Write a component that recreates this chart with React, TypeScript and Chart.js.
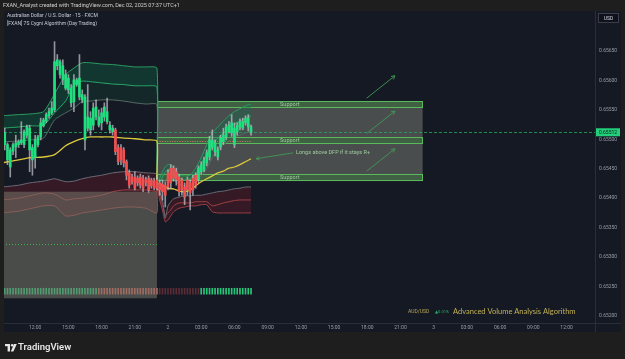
import React, { useEffect, useRef } from "react";
import { Chart, registerables } from "chart.js";

Chart.register(...registerables);

const FONT = "Roboto, 'Noto Sans', 'DejaVu Sans', sans-serif";

// ---------- candles (15 min, AUD/USD) ----------
const firstBarHour = 9.25; // Dec 1 09:15 (hours since Dec 1 00:00)
const barStepHours = 0.25;
const opens = [
  0.65491, 0.65491, 0.65453, 0.6548, 0.65487, 0.65491, 0.65494, 0.65491, 0.65507, 0.65519,
  0.65486, 0.65469, 0.65491, 0.65504, 0.65523, 0.65531, 0.6554, 0.65545, 0.6555, 0.65625,
  0.65632, 0.65601, 0.6561, 0.65584, 0.65587, 0.65564, 0.65601, 0.65572, 0.65576, 0.65572,
  0.65519, 0.65536, 0.65524, 0.65555, 0.65538, 0.65528, 0.65538, 0.65547, 0.65524, 0.65519,
  0.65516, 0.65486, 0.65465, 0.65482, 0.65462, 0.65443, 0.65436, 0.65436, 0.65426, 0.65436,
  0.65417, 0.65431, 0.65434, 0.65421, 0.65429, 0.65417, 0.65426, 0.65424, 0.65422, 0.65419,
  0.65426, 0.65451, 0.65431, 0.65436, 0.65414, 0.65419, 0.65414, 0.65426, 0.65414, 0.65422,
  0.65431, 0.65445, 0.65448, 0.6546, 0.6547, 0.65486, 0.65494, 0.65482, 0.65487, 0.65496,
  0.65504, 0.65513, 0.65511, 0.65491, 0.65513, 0.65521, 0.65519, 0.65528, 0.65536, 0.65521,
];
const highs = [
  0.65519, 0.65494, 0.65486, 0.65494, 0.65507, 0.65499, 0.6553, 0.65516, 0.65524, 0.65524,
  0.65491, 0.65507, 0.65507, 0.65536, 0.65536, 0.65545, 0.65553, 0.65564, 0.65666, 0.65644,
  0.65635, 0.65635, 0.65618, 0.6561, 0.65593, 0.6561, 0.65604, 0.65644, 0.65584, 0.65576,
  0.65593, 0.65547, 0.65562, 0.65567, 0.6555, 0.65553, 0.65562, 0.6557, 0.6553, 0.65524,
  0.65519, 0.65491, 0.65491, 0.65486, 0.65465, 0.65448, 0.65441, 0.65445, 0.65438, 0.65441,
  0.65439, 0.65436, 0.65438, 0.65434, 0.65434, 0.65439, 0.65431, 0.65431, 0.65428, 0.65448,
  0.65457, 0.65455, 0.65451, 0.65441, 0.65434, 0.65426, 0.65436, 0.65431, 0.65439, 0.65443,
  0.65455, 0.65462, 0.6547, 0.65482, 0.65505, 0.65516, 0.65499, 0.65487, 0.65507, 0.65519,
  0.65526, 0.6553, 0.65542, 0.65528, 0.65528, 0.65535, 0.65536, 0.6554, 0.65542, 0.65524,
];
const lows = [
  0.65482, 0.65457, 0.65436, 0.65474, 0.65469, 0.65486, 0.65491, 0.65486, 0.65502, 0.65445,
  0.65439, 0.65451, 0.65487, 0.65499, 0.65521, 0.65528, 0.65536, 0.65542, 0.65547, 0.65618,
  0.65604, 0.65593, 0.65584, 0.65578, 0.65555, 0.65547, 0.6559, 0.65567, 0.65562, 0.65482,
  0.65514, 0.65507, 0.65516, 0.65533, 0.65521, 0.65516, 0.65531, 0.65526, 0.65511, 0.65507,
  0.65474, 0.65457, 0.65457, 0.65453, 0.65431, 0.65417, 0.65424, 0.65414, 0.65421, 0.65417,
  0.65411, 0.65421, 0.65409, 0.65417, 0.65414, 0.65414, 0.65405, 0.65397, 0.65385, 0.65414,
  0.65417, 0.65429, 0.65422, 0.65404, 0.65405, 0.65389, 0.65405, 0.6538, 0.65405, 0.65417,
  0.65426, 0.65441, 0.65445, 0.65455, 0.65465, 0.65482, 0.65472, 0.65465, 0.65482, 0.65491,
  0.65499, 0.65511, 0.65505, 0.65486, 0.65507, 0.65516, 0.65516, 0.65524, 0.65514, 0.65507,
];
const closes = [
  0.65511, 0.65465, 0.65482, 0.65491, 0.65494, 0.65496, 0.65499, 0.65513, 0.65521, 0.65482,
  0.65465, 0.65499, 0.65504, 0.65528, 0.65533, 0.65542, 0.65547, 0.65553, 0.65632, 0.65635,
  0.6561, 0.65625, 0.65587, 0.65604, 0.65562, 0.65601, 0.65593, 0.65604, 0.65567, 0.65499,
  0.65538, 0.65516, 0.65553, 0.65538, 0.65524, 0.65545, 0.65555, 0.6553, 0.65516, 0.65513,
  0.65479, 0.65462, 0.65486, 0.6546, 0.65439, 0.65422, 0.65428, 0.65417, 0.65434, 0.65422,
  0.65434, 0.65426, 0.65414, 0.65431, 0.65417, 0.65431, 0.65414, 0.65411, 0.65405, 0.65443,
  0.65451, 0.65434, 0.65445, 0.65411, 0.65431, 0.65402, 0.65431, 0.65409, 0.65434, 0.65439,
  0.65451, 0.65457, 0.65465, 0.65477, 0.65499, 0.65499, 0.65479, 0.6547, 0.65502, 0.65507,
  0.65521, 0.65524, 0.65528, 0.65519, 0.65524, 0.6553, 0.6553, 0.65535, 0.65521, 0.65512,
];
// candle colouring by algorithm trend state
const trendSegments = [
  { from: 0, to: 39, dir: 1 },
  { from: 40, to: 69, dir: -1 },
  { from: 70, to: 89, dir: 1 },
];
// volume flow strip
const flowSegments = [
  { from: 0, to: 33, tone: "buy" },
  { from: 34, to: 55, tone: "sell" },
  { from: 56, to: 70, tone: "weakSell" },
  { from: 71, to: 89, tone: "buy" },
];
const flowStrip = [0.65237, 0.65247];

// ---------- session bands (Dec 1 session, then Dec 2 session) ----------
const bandHours = [
  9, 10.5, 11.5, 12.75, 13.75, 14.75, 15.5, 16.25, 17, 18, 19, 20, 21, 22, 23,
  23, 23.25, 23.5, 23.75, 24, 24.25, 24.5, 25, 25.5, 26, 26.5, 27, 27.5, 28, 28.5, 29, 29.5, 30, 30.5, 31, 31.5,
];
const upperBand2 = [
  0.6554, 0.65542, 0.65543, 0.65547, 0.65577, 0.6561, 0.65621, 0.6563, 0.6563, 0.65628, 0.65627, 0.65625, 0.65623, 0.65623, 0.65621,
  0.65426, 0.65434, 0.65445, 0.65453, 0.65457, 0.65457, 0.65451, 0.65439, 0.65438, 0.65439, 0.65451, 0.65469, 0.65491, 0.65511, 0.65521, 0.65531, 0.6554, 0.65547, 0.65552, 0.65557, 0.6556,
];
const upperBand1 = [
  0.65519, 0.65521, 0.65523, 0.65524, 0.65545, 0.65565, 0.65593, 0.65599, 0.65598, 0.65596, 0.65594, 0.65593, 0.65591, 0.65591, 0.65589,
  0.65422, 0.65428, 0.65436, 0.65445, 0.65448, 0.65448, 0.65445, 0.65434, 0.65431, 0.65433, 0.65443, 0.65457, 0.65474, 0.65491, 0.65502, 0.65511, 0.65519, 0.65526, 0.65531, 0.65536, 0.6554,
];
const upperInner = [
  0.65496, 0.65497, 0.65499, 0.65502, 0.65533, 0.65545, 0.65553, 0.65564, 0.65565, 0.65567, 0.65567, 0.65565, 0.65562, 0.6556, 0.65559,
  0.65419, 0.65421, 0.65426, 0.65431, 0.65434, 0.65434, 0.65431, 0.65424, 0.65421, 0.65421, 0.65428, 0.65438, 0.65451, 0.65469, 0.65482, 0.65491, 0.65497, 0.65504, 0.65507, 0.65511, 0.65513,
];
const vwapLine = [
  0.6546, 0.65465, 0.65469, 0.6547, 0.65474, 0.65489, 0.65496, 0.65501, 0.65504, 0.65504, 0.65504, 0.65502, 0.65501, 0.65499, 0.65497,
  0.65426, 0.65424, 0.65421, 0.65419, 0.65417, 0.65416, 0.65416, 0.65412, 0.65411, 0.65414, 0.65421, 0.65428, 0.65433, 0.65438, 0.65443, 0.65446, 0.65451, 0.65453, 0.65457, 0.65462, 0.65467,
];
const lowerInner = [
  0.65419, 0.65422, 0.65426, 0.65429, 0.65433, 0.65428, 0.65429, 0.65433, 0.65436, 0.65439, 0.65443, 0.65445, 0.65445, 0.65443, 0.65441,
  0.65426, 0.65411, 0.65397, 0.65366, 0.65387, 0.65394, 0.65399, 0.65402, 0.65404, 0.65404, 0.65405, 0.65405, 0.65407, 0.65409, 0.65411, 0.65412, 0.65414, 0.65416, 0.65417, 0.65419, 0.65419,
];
const lowerBand1 = [
  0.65397, 0.654, 0.65404, 0.65409, 0.65407, 0.65397, 0.65399, 0.654, 0.65402, 0.65405, 0.65411, 0.65414, 0.65414, 0.65414, 0.65412,
  0.65422, 0.65405, 0.65389, 0.65371, 0.65375, 0.6538, 0.65387, 0.65392, 0.65392, 0.65392, 0.65394, 0.65394, 0.65394, 0.65387, 0.65389, 0.65392, 0.65394, 0.65396, 0.65397, 0.65397, 0.65397,
];
const lowerBand2 = [
  0.65375, 0.65378, 0.65382, 0.65387, 0.65387, 0.6537, 0.65371, 0.65375, 0.65377, 0.6538, 0.65383, 0.65385, 0.65385, 0.65383, 0.65375,
  0.65419, 0.65397, 0.6538, 0.6536, 0.65363, 0.6537, 0.65377, 0.65383, 0.65385, 0.65387, 0.65387, 0.65389, 0.65389, 0.65377, 0.65375, 0.65375, 0.65375, 0.65375, 0.65375, 0.65375, 0.65375,
];

// ---------- axes ----------
const priceTicks = [0.652, 0.6525, 0.653, 0.6535, 0.654, 0.6545, 0.655, 0.6555, 0.656, 0.6565];
const timeTickHours = [12, 15, 18, 21, 24, 27, 30, 33, 36, 39, 42, 45, 48, 51, 54, 57, 60];
const timeTickLabels = ["12:00", "15:00", "18:00", "21:00", "2", "03:00", "06:00", "09:00", "12:00", "15:00", "18:00", "21:00", "3", "03:00", "06:00", "09:00", "12:00"];
const viewHours = [9.185, 62.57];
const viewPrices = [0.65188, 0.65718];

// ---------- drawings ----------
const supportLevels = [
  { hi: 0.65565, lo: 0.65553 },
  { hi: 0.65504, lo: 0.65492 },
  { hi: 0.65441, lo: 0.65429 },
];
const supportSpan = [23, 47];
const supportLabelHour = 35;
const sessionBox = { from: 9, to: 23, hi: 0.65411, lo: 0.6523 };
const sessionDotLevel = 0.65322;
const dfpDots = { from: 23.25, to: 31.5, level: 0.65497 };
const projectionArrows = [
  [41.95, 0.6557, 44.5, 0.65608],
  [41.95, 0.6551, 44.5, 0.65548],
  [41.95, 0.65446, 44.5, 0.65484],
];
const noteArrow = [35.3, 0.65477, 31.95, 0.65467];
const noteText = "Longs above DFP if it stays R+";
const notePos = [35.56, 0.65477];

const UP = "#1fe07f";
const DOWN = "#f44f4f";
const FLOW_COLORS: Record<string, string> = { buy: "#27c77a", sell: "#d0605a", weakSell: "#5b2c36" };

function drawArrow(ctx: CanvasRenderingContext2D, x1: number, y1: number, x2: number, y2: number, head: number) {
  ctx.beginPath();
  ctx.moveTo(x1, y1);
  ctx.lineTo(x2, y2);
  ctx.stroke();
  const a = Math.atan2(y2 - y1, x2 - x1);
  ctx.beginPath();
  ctx.moveTo(x2 - head * Math.cos(a - 0.5), y2 - head * Math.sin(a - 0.5));
  ctx.lineTo(x2, y2);
  ctx.lineTo(x2 - head * Math.cos(a + 0.5), y2 - head * Math.sin(a + 0.5));
  ctx.stroke();
}

const overlayPlugin = {
  id: "overlay",
  beforeDraw(chart: any) {
    const { ctx, chartArea: ca, scales } = chart;
    ctx.save();
    ctx.fillStyle = "#1e1e1e";
    ctx.fillRect(0, 0, chart.width, chart.height);
    ctx.fillStyle = "#151924";
    ctx.fillRect(ca.left, ca.top, scales.y.right - ca.left, scales.x.bottom - ca.top);
    ctx.restore();
  },
  beforeDatasetsDraw(chart: any) {
    const { ctx, chartArea: ca, scales } = chart;
    const xs = scales.x, ys = scales.y;
    ctx.save();
    ctx.beginPath();
    ctx.rect(ca.left, ca.top, ca.width, ca.height);
    ctx.clip();
    const zx0 = xs.getPixelForValue(supportSpan[0]);
    const zx1 = xs.getPixelForValue(supportSpan[1]);
    const zTop = ys.getPixelForValue(supportLevels[0].hi);
    const zBot = ys.getPixelForValue(supportLevels[supportLevels.length - 1].lo);
    ctx.fillStyle = "rgba(122,124,116,0.52)";
    ctx.fillRect(zx0, zTop, zx1 - zx0, zBot - zTop);
    for (const lv of supportLevels) {
      const t = Math.round(ys.getPixelForValue(lv.hi));
      const b = Math.round(ys.getPixelForValue(lv.lo));
      ctx.fillStyle = "rgba(50,120,55,0.45)";
      ctx.fillRect(zx0, t, zx1 - zx0, b - t);
      ctx.strokeStyle = "#5cb85c";
      ctx.lineWidth = 1;
      ctx.strokeRect(Math.round(zx0) + 0.5, t + 0.5, Math.round(zx1 - zx0) - 1, b - t - 1);
      ctx.fillStyle = "#9ccb9c";
      ctx.font = `5.5px ${FONT}`;
      ctx.textAlign = "center";
      ctx.textBaseline = "middle";
      ctx.fillText("Support", xs.getPixelForValue(supportLabelHour), (t + b) / 2);
    }
    // DFP dotted line
    const dy = Math.round(ys.getPixelForValue(dfpDots.level)) + 0.5;
    ctx.strokeStyle = "#e57373";
    ctx.setLineDash([1, 1.5]);
    ctx.beginPath();
    ctx.moveTo(xs.getPixelForValue(dfpDots.from), dy);
    ctx.lineTo(xs.getPixelForValue(dfpDots.to), dy);
    ctx.stroke();
    // last price dashed line
    const last = closes[closes.length - 1];
    const py = Math.round(ys.getPixelForValue(last)) + 0.5;
    ctx.strokeStyle = "rgba(38,170,95,0.8)";
    ctx.setLineDash([3, 2]);
    ctx.beginPath();
    ctx.moveTo(ca.left, py);
    ctx.lineTo(ca.right, py);
    ctx.stroke();
    ctx.restore();
  },
  afterDatasetsDraw(chart: any) {
    const { ctx, chartArea: ca, scales } = chart;
    const xs = scales.x, ys = scales.y;
    ctx.save();
    ctx.beginPath();
    ctx.rect(ca.left, ca.top, ca.width, ca.height);
    ctx.clip();
    // previous-session box
    const bx0 = xs.getPixelForValue(sessionBox.from);
    const bx1 = xs.getPixelForValue(sessionBox.to);
    const by0 = ys.getPixelForValue(sessionBox.hi);
    const by1 = ys.getPixelForValue(sessionBox.lo);
    ctx.fillStyle = "rgba(118,118,106,0.55)";
    ctx.fillRect(bx0, by0, bx1 - bx0, by1 - by0);
    const dly = Math.round(ys.getPixelForValue(sessionDotLevel)) + 0.5;
    ctx.strokeStyle = "#45a84b";
    ctx.lineWidth = 1;
    ctx.setLineDash([1, 2]);
    ctx.beginPath();
    ctx.moveTo(ca.left + 2, dly);
    ctx.lineTo(bx1, dly);
    ctx.stroke();
    ctx.setLineDash([]);
    // projection arrows
    ctx.strokeStyle = "#3f9a55";
    ctx.lineWidth = 0.9;
    for (const a of projectionArrows) {
      drawArrow(ctx, xs.getPixelForValue(a[0]), ys.getPixelForValue(a[1]), xs.getPixelForValue(a[2]), ys.getPixelForValue(a[3]), 4);
    }
    drawArrow(ctx, xs.getPixelForValue(noteArrow[0]), ys.getPixelForValue(noteArrow[1]), xs.getPixelForValue(noteArrow[2]), ys.getPixelForValue(noteArrow[3]), 4);
    ctx.fillStyle = "#9ccb9c";
    ctx.font = `5.5px ${FONT}`;
    ctx.textAlign = "left";
    ctx.textBaseline = "middle";
    ctx.fillText(noteText, xs.getPixelForValue(notePos[0]), ys.getPixelForValue(notePos[1]));
    // watermark
    const wy = ca.bottom - 11;
    ctx.textBaseline = "middle";
    ctx.fillStyle = "#c2b155";
    ctx.font = `7.5px Lato, ${FONT}`;
    ctx.fillText("Advanced Volume Analysis Algorithm", ca.right - 142, wy);
    ctx.fillStyle = "#b5a555";
    ctx.font = `5px ${FONT}`;
    ctx.fillText("AUD/USD", ca.right - 187, wy);
    ctx.fillStyle = "#2bb36a";
    ctx.font = `4px ${FONT}`;
    ctx.fillText("▲0.01%", ca.right - 160, wy);
    ctx.restore();
  },
  afterDraw(chart: any) {
    const { ctx, chartArea: ca, scales } = chart;
    const ys = scales.y, xs = scales.x;
    ctx.save();
    // panel separators
    ctx.strokeStyle = "#2a2e39";
    ctx.lineWidth = 1;
    ctx.beginPath();
    ctx.moveTo(Math.round(ca.right) + 0.5, ca.top);
    ctx.lineTo(Math.round(ca.right) + 0.5, xs.bottom);
    ctx.moveTo(ca.left, Math.round(ca.bottom) + 0.5);
    ctx.lineTo(ys.right, Math.round(ca.bottom) + 0.5);
    ctx.stroke();
    // price label
    const last = closes[closes.length - 1];
    const py = ys.getPixelForValue(last);
    ctx.fillStyle = "#22cf7a";
    ctx.fillRect(ca.right + 1, py - 4, 24, 8);
    ctx.fillStyle = "#0c1a12";
    ctx.font = `5px ${FONT}`;
    ctx.textAlign = "center";
    ctx.textBaseline = "middle";
    ctx.fillText(last.toFixed(5), ca.right + 13, py + 0.3);
    // currency box
    ctx.fillStyle = "#0f121a";
    ctx.fillRect(ca.right + 3, ca.top + 2, 21, 10);
    ctx.strokeStyle = "#3a3e48";
    ctx.strokeRect(ca.right + 3.5, ca.top + 2.5, 20, 9);
    ctx.fillStyle = "#d1d4dc";
    ctx.fillText("USD", ca.right + 13.5, ca.top + 7.3);
    // header & legend
    ctx.textAlign = "left";
    ctx.fillStyle = "#cfcfcf";
    ctx.font = `5.5px ${FONT}`;
    ctx.fillText("FXAN_Analyst created with TradingView.com, Dec 02, 2025 07:37 UTC+1", 3, 5.5);
    ctx.fillStyle = "#c9ccd4";
    ctx.font = `5px ${FONT}`;
    ctx.fillText("Australian Dollar / U.S. Dollar · 15 · FXCM", ca.left + 3, ca.top + 5);
    ctx.fillText("[FXAN] 7S Cygni Algorithm (Day Trading)", ca.left + 3, ca.top + 13);
    // footer logo
    const fy = chart.height - 11;
    ctx.fillStyle = "#e6e6e6";
    ctx.fillRect(5, fy - 4, 5, 2.2);
    ctx.fillRect(7.6, fy - 4, 2.4, 7.5);
    ctx.beginPath();
    ctx.arc(12.2, fy - 2.8, 1.3, 0, Math.PI * 2);
    ctx.fill();
    ctx.beginPath();
    ctx.moveTo(14, fy - 4);
    ctx.lineTo(16.8, fy - 4);
    ctx.lineTo(13.4, fy + 3.5);
    ctx.lineTo(10.8, fy + 3.5);
    ctx.closePath();
    ctx.fill();
    ctx.font = `600 9.5px ${FONT}`;
    ctx.fillText("TradingView", 18, fy);
    ctx.restore();
  },
};

export default function App() {
  const ref = useRef<HTMLCanvasElement>(null);
  useEffect(() => {
    const canvas = ref.current;
    if (!canvas) return;
    const barHours = opens.map((_, i) => firstBarHour + i * barStepHours);
    const trendAt = (i: number) => (trendSegments.find((s) => i >= s.from && i <= s.to) || trendSegments[0]).dir;
    const toneAt = (i: number) => (flowSegments.find((s) => i >= s.from && i <= s.to) || flowSegments[0]).tone;
    const pts = (arr: number[]) => bandHours.map((h, i) => ({ x: h, y: arr[i] }));
    const line = (arr: number[], color: string, width: number, extra: any = {}) => ({
      type: "line" as const,
      data: pts(arr),
      borderColor: color,
      borderWidth: width,
      pointRadius: 0,
      tension: 0.2,
      fill: false,
      ...extra,
    });

    const chart = new Chart(canvas, {
      type: "bar",
      data: {
        datasets: [
          {
            type: "bar",
            data: barHours.map((h, i) => ({ x: h, y: [opens[i], closes[i]] })),
            backgroundColor: opens.map((_, i) => (trendAt(i) > 0 ? UP : DOWN)),
            barThickness: 2,
            grouped: false,
            minBarLength: 1,
            borderWidth: 0,
          } as any,
          {
            type: "bar",
            data: barHours.map((h, i) => ({ x: h, y: [lows[i], highs[i]] })),
            backgroundColor: "rgba(200,200,206,0.7)",
            barThickness: 1,
            grouped: false,
            borderWidth: 0,
          } as any,
          {
            type: "bar",
            data: barHours.map((h) => ({ x: h, y: [flowStrip[0], flowStrip[1]] })),
            backgroundColor: opens.map((_, i) => FLOW_COLORS[toneAt(i)]),
            barThickness: 1,
            grouped: false,
            borderWidth: 0,
          } as any,
          line(vwapLine, "#dcc83c", 1.3),
          line(upperBand2, "#2a9d62", 1, { fill: "+1", backgroundColor: "rgba(16,112,72,0.34)" }),
          line(upperBand1, "#2cb56f", 1, { fill: "+1", backgroundColor: "rgba(16,112,72,0.18)" }),
          line(upperInner, "#5f6b68", 1),
          line(lowerInner, "#6c6a74", 1, { fill: "+2", backgroundColor: "rgba(120,30,45,0.32)" }),
          line(lowerBand1, "#b5504e", 1),
          line(lowerBand2, "#a8464a", 1),
        ],
      },
      options: {
        animation: false,
        responsive: false,
        devicePixelRatio: 1,
        events: [],
        layout: { padding: { left: 4, top: 11, right: 4, bottom: 27 } },
        plugins: { legend: { display: false }, tooltip: { enabled: false } },
        scales: {
          x: {
            type: "linear",
            min: viewHours[0],
            max: viewHours[1],
            offset: false,
            grid: { display: false, drawTicks: false },
            border: { display: false },
            afterBuildTicks: (s: any) => {
              s.ticks = timeTickHours.map((v) => ({ value: v }));
            },
            afterFit: (s: any) => {
              s.height = 9;
            },
            ticks: {
              autoSkip: false,
              maxRotation: 0,
              padding: 2,
              color: "#9a9ea8",
              font: { size: 5, family: FONT },
              callback: (v: any) => timeTickLabels[timeTickHours.indexOf(Number(v))] ?? "",
            },
          },
          y: {
            type: "linear",
            position: "right",
            min: viewPrices[0],
            max: viewPrices[1],
            grid: { display: false, drawTicks: false },
            border: { display: false },
            afterBuildTicks: (s: any) => {
              s.ticks = priceTicks.map((v) => ({ value: v }));
            },
            afterFit: (s: any) => {
              s.width = 26;
            },
            ticks: {
              padding: 4,
              color: "#9a9ea8",
              font: { size: 5, family: FONT },
              callback: (v: any) => Number(v).toFixed(5),
            },
          },
        },
      } as any,
      plugins: [overlayPlugin as any],
    });
    return () => chart.destroy();
  }, []);

  return (
    <canvas
      ref={ref}
      width={625}
      height={359}
      style={{ position: "fixed", left: 0, top: 0, width: "625px", height: "359px", display: "block" }}
    />
  );
}
